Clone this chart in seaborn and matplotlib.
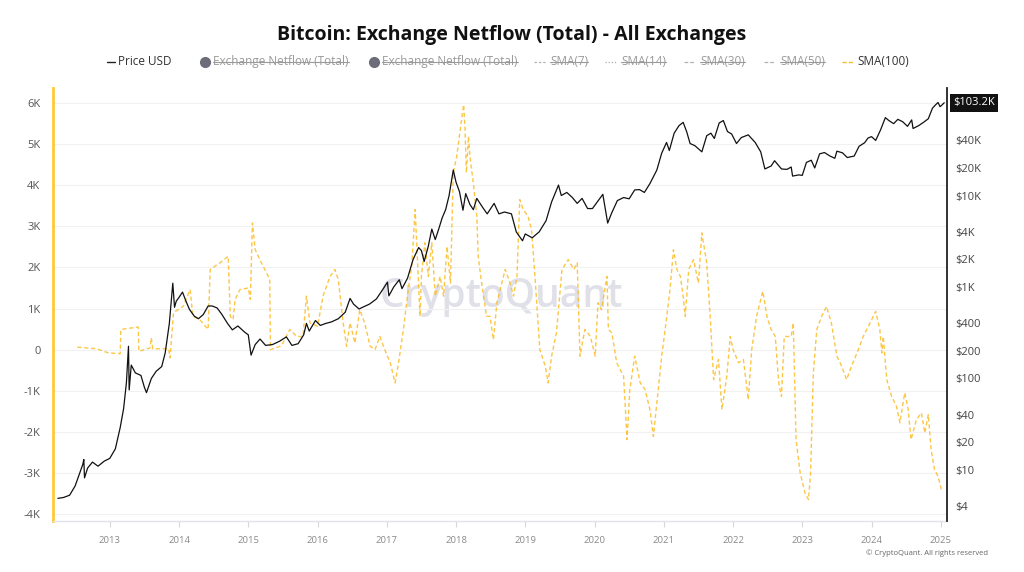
import numpy as np
import pandas as pd
import matplotlib
matplotlib.use("Agg")
import matplotlib.pyplot as plt
import seaborn as sns
from matplotlib.lines import Line2D
from matplotlib.ticker import FixedLocator, NullLocator
from matplotlib.transforms import blended_transform_factory

# ---------------- data ----------------
price_year = [2012.25, 2012.33, 2012.42, 2012.50, 2012.56, 2012.61, 2012.625, 2012.635, 2012.68, 2012.75,
              2012.83, 2012.92, 2013.00, 2013.08, 2013.15, 2013.20, 2013.24, 2013.27, 2013.28, 2013.31,
              2013.37, 2013.45, 2013.50, 2013.53, 2013.60, 2013.67, 2013.75, 2013.80, 2013.86, 2013.91,
              2013.935, 2013.96, 2014.00, 2014.05, 2014.10, 2014.15, 2014.22, 2014.28, 2014.35, 2014.42,
              2014.48, 2014.55, 2014.62, 2014.70, 2014.77, 2014.85, 2014.95, 2015.00, 2015.04, 2015.10,
              2015.17, 2015.25, 2015.35, 2015.45, 2015.55, 2015.63, 2015.72, 2015.80, 2015.84, 2015.88,
              2015.97, 2016.04, 2016.12, 2016.20, 2016.30, 2016.40, 2016.47, 2016.52, 2016.60, 2016.65,
              2016.75, 2016.85, 2016.95, 2017.01, 2017.03, 2017.10, 2017.18, 2017.22, 2017.30, 2017.38,
              2017.46, 2017.50, 2017.54, 2017.60, 2017.65, 2017.70, 2017.75, 2017.80, 2017.85, 2017.90,
              2017.96, 2018.00, 2018.05, 2018.10, 2018.14, 2018.20, 2018.25, 2018.30, 2018.38, 2018.45,
              2018.55, 2018.62, 2018.70, 2018.80, 2018.87, 2018.96, 2019.00, 2019.10, 2019.20, 2019.30,
              2019.38, 2019.48, 2019.52, 2019.60, 2019.68, 2019.75, 2019.82, 2019.90, 2019.97, 2020.05,
              2020.12, 2020.19, 2020.25, 2020.33, 2020.42, 2020.50, 2020.58, 2020.65, 2020.72, 2020.80,
              2020.90, 2020.97, 2021.04, 2021.08, 2021.15, 2021.22, 2021.28, 2021.33, 2021.38, 2021.45,
              2021.55, 2021.62, 2021.68, 2021.73, 2021.80, 2021.86, 2021.92, 2021.98, 2022.05, 2022.12,
              2022.22, 2022.32, 2022.40, 2022.46, 2022.55, 2022.60, 2022.70, 2022.78, 2022.84, 2022.86,
              2022.95, 2023.00, 2023.06, 2023.13, 2023.18, 2023.25, 2023.32, 2023.40, 2023.47, 2023.50,
              2023.58, 2023.65, 2023.75, 2023.82, 2023.90, 2023.95, 2024.00, 2024.06, 2024.13, 2024.20,
              2024.25, 2024.32, 2024.38, 2024.45, 2024.52, 2024.58, 2024.60, 2024.68, 2024.75, 2024.82,
              2024.88, 2024.92, 2024.96, 2024.99, 2025.02, 2025.05]
price_usd = [4.9, 5.0, 5.3, 6.7, 9.0, 11.5, 13.0, 8.2, 10.5, 12.2,
             11.0, 12.5, 13.4, 17.0, 29, 47, 90, 225, 75, 140,
             115, 108, 80, 70, 100, 120, 135, 190, 400, 1100,
             600, 700, 770, 880, 700, 570, 480, 450, 500, 620,
             620, 590, 500, 400, 340, 375, 320, 300, 180, 235,
             270, 230, 235, 255, 285, 230, 240, 300, 400, 330,
             430, 380, 400, 415, 450, 530, 750, 650, 575, 600,
             650, 740, 960, 1130, 800, 1000, 1200, 960, 1250, 2000,
             2700, 2500, 1900, 2800, 4300, 3300, 4300, 5700, 7000, 10000,
             19000, 14000, 11000, 6900, 10500, 8000, 7000, 9300, 7500, 6300,
             8200, 6300, 6600, 6300, 4000, 3200, 3800, 3450, 4000, 5300,
             8500, 13000, 10000, 10800, 9500, 8200, 9300, 7200, 7200, 8700,
             10300, 5000, 6500, 8800, 9500, 9200, 11500, 11600, 10800, 13500,
             19000, 29000, 38000, 31000, 48000, 58000, 63000, 50000, 37000, 35000,
             30000, 45000, 48000, 42000, 62000, 66000, 50000, 47000, 37000, 43000,
             46000, 38000, 30000, 19500, 21000, 24000, 19500, 19300, 20500, 16300,
             16800, 16600, 23000, 24300, 20000, 28500, 29500, 27000, 25500, 30500,
             29300, 26000, 27000, 34500, 37700, 42500, 44000, 40000, 52000, 71000,
             66000, 61000, 68000, 64000, 57000, 67000, 54000, 58000, 63000, 69000,
             90000, 97000, 104000, 93500, 98000, 103200]

nf_year = [2012.53, 2012.81, 2012.98, 2013.15, 2013.16, 2013.41, 2013.42, 2013.58, 2013.60, 2013.62,
           2013.85, 2013.87, 2013.92, 2014.06, 2014.16, 2014.20, 2014.30, 2014.42, 2014.45, 2014.59,
           2014.71, 2014.74, 2014.78, 2014.81, 2014.88, 2015.00, 2015.03, 2015.06, 2015.10, 2015.19,
           2015.29, 2015.31, 2015.32, 2015.46, 2015.50, 2015.60, 2015.70, 2015.79, 2015.84, 2015.89,
           2016.00, 2016.08, 2016.18, 2016.25, 2016.30, 2016.37, 2016.42, 2016.47, 2016.54, 2016.61,
           2016.68, 2016.76, 2016.83, 2016.90, 2016.97, 2017.05, 2017.12, 2017.17, 2017.24, 2017.31,
           2017.36, 2017.41, 2017.43, 2017.48, 2017.50, 2017.55, 2017.60, 2017.65, 2017.70, 2017.77,
           2017.82, 2017.87, 2017.92, 2017.96, 2018.01, 2018.06, 2018.11, 2018.13, 2018.15, 2018.18,
           2018.20, 2018.25, 2018.30, 2018.32, 2018.37, 2018.44, 2018.49, 2018.54, 2018.59, 2018.71,
           2018.78, 2018.83, 2018.88, 2018.92, 2018.97, 2019.04, 2019.09, 2019.14, 2019.21, 2019.29,
           2019.33, 2019.38, 2019.45, 2019.53, 2019.62, 2019.70, 2019.75, 2019.79, 2019.86, 2019.94,
           2020.01, 2020.05, 2020.10, 2020.18, 2020.20, 2020.25, 2020.32, 2020.42, 2020.47, 2020.51,
           2020.58, 2020.66, 2020.73, 2020.80, 2020.85, 2020.92, 2020.97, 2021.02, 2021.09, 2021.14,
           2021.19, 2021.24, 2021.28, 2021.31, 2021.36, 2021.43, 2021.50, 2021.55, 2021.62, 2021.67,
           2021.72, 2021.79, 2021.84, 2021.91, 2021.96, 2022.00, 2022.08, 2022.15, 2022.22, 2022.27,
           2022.34, 2022.43, 2022.49, 2022.55, 2022.61, 2022.66, 2022.70, 2022.74, 2022.84, 2022.87,
           2022.91, 2022.97, 2023.04, 2023.09, 2023.12, 2023.16, 2023.21, 2023.28, 2023.35, 2023.42,
           2023.50, 2023.57, 2023.64, 2023.71, 2023.81, 2023.88, 2023.98, 2024.06, 2024.12, 2024.15,
           2024.17, 2024.22, 2024.29, 2024.36, 2024.41, 2024.48, 2024.53, 2024.57, 2024.65, 2024.72,
           2024.77, 2024.82, 2024.86, 2024.91, 2024.96, 2025.01]
nf_sma100_k = [0.06, 0.02, -0.08, -0.10, 0.49, 0.55, -0.04, 0.04, 0.29, 0.02,
               0.02, -0.20, 0.90, 1.05, 1.46, 0.81, 0.73, 0.49, 1.95, 2.11,
               2.27, 0.81, 0.73, 1.22, 1.46, 1.50, 1.22, 3.08, 2.43, 2.11,
               1.78, 1.70, 0.00, 0.08, 0.16, 0.49, 0.32, 0.32, 1.30, 0.65,
               0.57, 1.30, 1.78, 1.95, 1.70, 0.65, 0.08, 0.65, 0.16, 0.97,
               0.65, 0.08, 0.00, 0.32, 0.00, -0.32, -0.81, -0.32, 0.49, 1.46,
               2.03, 3.41, 2.68, 0.81, 1.78, 2.60, 1.78, 2.60, 1.30, 1.78,
               1.30, 2.51, 1.62, 4.30, 4.70, 5.35, 5.96, 5.35, 4.30, 5.19,
               4.70, 4.05, 3.24, 2.27, 1.62, 0.81, 0.81, 0.24, 1.14, 1.95,
               1.62, 1.30, 1.78, 3.65, 3.41, 3.24, 2.92, 1.78, 0.00, -0.41,
               -0.81, -0.16, 0.41, 1.95, 2.19, 1.95, 2.11, -0.16, 0.49, 0.32,
               -0.16, 1.14, 0.97, 1.78, 0.49, 0.41, -0.32, -0.65, -2.19, -0.97,
               -0.16, -0.81, -0.97, -1.46, -2.11, -0.97, -0.16, 0.49, 1.46, 2.43,
               1.95, 1.78, 1.30, 0.81, 1.95, 2.19, 1.62, 2.84, 2.11, 0.81,
               -0.73, -0.24, -1.46, -0.65, 0.32, 0.00, -0.32, -0.24, -1.22, 0.00,
               0.81, 1.42, 0.81, 0.49, 0.32, -0.81, -1.14, 0.32, 0.32, 0.65,
               -2.19, -3.00, -3.49, -3.65, -3.00, -0.57, 0.49, 0.81, 1.05, 0.65,
               -0.16, -0.41, -0.73, -0.41, 0.00, 0.32, 0.65, 0.93, 0.49, -0.08,
               0.32, -0.73, -1.14, -1.38, -1.78, -1.05, -1.46, -2.19, -1.70, -1.54,
               -2.03, -1.58, -2.43, -2.92, -3.08, -3.41]

left_ticks_k = [-4, -3, -2, -1, 0, 1, 2, 3, 4, 5, 6]
right_ticks = [4, 10, 20, 40, 100, 200, 400, 1000, 2000, 4000, 10000, 20000, 40000]
right_tick_labels = ["$4", "$10", "$20", "$40", "$100", "$200", "$400", "$1K", "$2K", "$4K", "$10K", "$20K", "$40K"]
year_ticks = list(range(2013, 2026))

title = "Bitcoin: Exchange Netflow (Total) - All Exchanges"
price_label = "$103.2K"

# ---------------- figure ----------------
sns.set_theme(style="white")
plt.rcParams['font.family'] = ['Open Sans', 'DejaVu Sans']

W, H = 1024, 572
fig = plt.figure(figsize=(W / 100, H / 100), dpi=100)
ax = fig.add_axes([53 / W, 1 - 521 / H, (947 - 53) / W, (521 - 88) / H])
ax2 = ax.twinx()

YELLOW = '#FCBC25'

nf_df = pd.DataFrame({"year": nf_year, "netflow": np.array(nf_sma100_k) * 1000})
price_df = pd.DataFrame({"year": price_year, "price": price_usd})

sns.lineplot(data=nf_df, x="year", y="netflow", ax=ax, color=YELLOW, lw=1.0, alpha=0.85,
             linestyle=(0, (3, 2)), estimator=None, sort=False, zorder=2)
sns.lineplot(data=price_df, x="year", y="price", ax=ax2, color='#111111', lw=0.9,
             estimator=None, sort=False, zorder=3)

# left axis
ax.set_xlim(2012.18, 2025.09)
ax.set_ylim(-4170, 6365)
ax.set_yticks([v * 1000 for v in left_ticks_k])
ax.set_yticklabels([("0" if v == 0 else f"{v}K") for v in left_ticks_k])
ax.grid(axis='y', color='#f1f1f1', lw=0.8)
ax.grid(axis='x', visible=False)
ax.set_xlabel("")
ax.set_ylabel("")
ax.tick_params(axis='y', length=0, pad=9, labelsize=8, labelcolor='#555555')
ax.set_xticks(year_ticks)
ax.set_xticklabels([str(y) for y in year_ticks])
ax.tick_params(axis='x', bottom=True, length=4, width=0.8, color='#d8d8d8', direction='out',
               labelsize=6.8, labelcolor='#8a8a8a', pad=7)

# right axis (log price)
ax2.set_yscale('log')
ax2.set_ylim(2.77, 149600)
ax2.yaxis.set_major_locator(FixedLocator(right_ticks))
ax2.yaxis.set_minor_locator(NullLocator())
ax2.set_yticklabels(right_tick_labels)
ax2.tick_params(axis='y', which='both', length=0, pad=6, labelsize=8, labelcolor='#444444')
ax2.set_ylabel("")
ax2.grid(False)

for s in ['top', 'right']:
    ax.spines[s].set_visible(False)
ax.spines['left'].set_color('#FFC93C')
ax.spines['left'].set_linewidth(2)
ax.spines['bottom'].set_color('#e2e2e8')
ax.spines['bottom'].set_linewidth(1)
for s in ['top', 'left', 'bottom']:
    ax2.spines[s].set_visible(False)
ax2.spines['right'].set_color('#222222')
ax2.spines['right'].set_linewidth(1.3)

# last price label
ax2.text(1.007, price_usd[-1], price_label,
         transform=blended_transform_factory(ax2.transAxes, ax2.transData),
         ha='left', va='center', color='white', fontsize=8,
         bbox=dict(boxstyle='square,pad=0.3', fc='#111111', ec='none'), zorder=5)

# watermark
ax.text(501 / W, 1 - 297 / H, "CryptoQuant", transform=fig.transFigure, ha='center', va='center',
        fontsize=28, fontweight='semibold', color='#e0e0e8', zorder=0.5)

# title
fig.text(0.5, 1 - 35 / H, title, ha='center', va='center', fontsize=14, fontweight='bold', color='#111111')

# legend (custom row)
ly = 1 - 62 / H
fs = 8.5
def fx(px):
    return px / W

fig.add_artist(Line2D([fx(107), fx(115)], [ly, ly], color='#222222', lw=1, transform=fig.transFigure))
fig.text(fx(118), ly, "Price USD", ha='left', va='center', fontsize=fs, color='#333333')

strike_texts = []
fig.add_artist(Line2D([fx(205)], [ly], marker='o', ms=7, color='#6c6c7a', transform=fig.transFigure))
strike_texts.append(fig.text(fx(213), ly, "Exchange Netflow (Total)", ha='left', va='center', fontsize=fs, color='#9a9a9a'))
fig.add_artist(Line2D([fx(374)], [ly], marker='o', ms=7, color='#6c6c7a', transform=fig.transFigure))
strike_texts.append(fig.text(fx(382), ly, "Exchange Netflow (Total)", ha='left', va='center', fontsize=fs, color='#9a9a9a'))

sma_items = [(534, 550, "SMA(7)", (0, (2, 1.5))),
             (605, 621, "SMA(14)", (0, (1, 1.5))),
             (684, 700, "SMA(30)", (0, (3, 1.5))),
             (764, 780, "SMA(50)", (0, (3, 1.5)))]
for hx, tx, lab, ls in sma_items:
    fig.add_artist(Line2D([fx(hx), fx(hx + 11)], [ly, ly], color='#b0b0b0', lw=0.9, linestyle=ls,
                          transform=fig.transFigure))
    strike_texts.append(fig.text(fx(tx), ly, lab, ha='left', va='center', fontsize=fs, color='#9a9a9a'))

fig.add_artist(Line2D([fx(842), fx(853)], [ly, ly], color=YELLOW, lw=1, linestyle=(0, (3, 1.5)),
                      transform=fig.transFigure))
fig.text(fx(857), ly, "SMA(100)", ha='left', va='center', fontsize=fs, color='#333333')

# copyright
fig.text(988 / W, 1 - 553 / H, "\u00a9 CryptoQuant. All rights reserved", ha='right', va='center',
         fontsize=5.5, color='#666666')

# strike-through lines over disabled legend entries
fig.canvas.draw()
renderer = fig.canvas.get_renderer()
for t in strike_texts:
    bb = t.get_window_extent(renderer)
    yc = (bb.y0 + bb.y1) / 2 / H
    fig.add_artist(Line2D([bb.x0 / W, bb.x1 / W], [yc, yc], color='#9a9a9a', lw=0.8,
                          transform=fig.transFigure))

fig.savefig("out.png", dpi=100)
